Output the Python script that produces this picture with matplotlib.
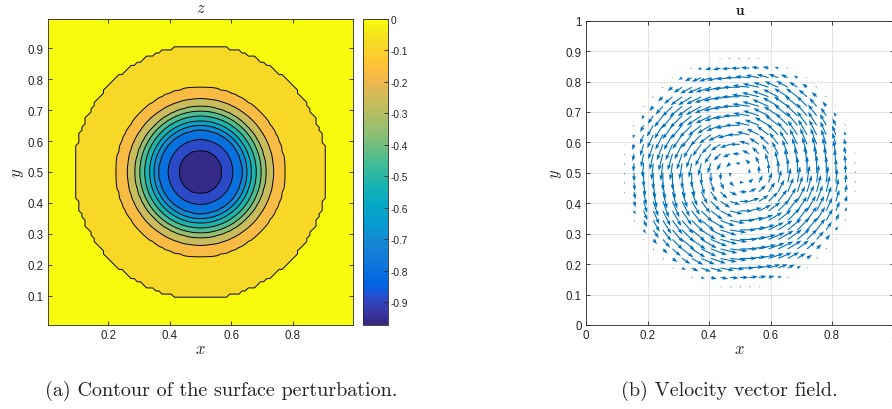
import numpy as np
import matplotlib

matplotlib.use("Agg")
import matplotlib.pyplot as plt
from matplotlib.cm import ScalarMappable
from matplotlib.colors import ListedColormap, Normalize

plt.rcParams["mathtext.fontset"] = "cm"
plt.rcParams["font.family"] = ["Liberation Sans", "DejaVu Sans"]

# Surface perturbation z: contour levels and the radius (from the centre)
# at which each contour sits in the picture. Outermost one is z = 0.
z_levels = [-0.972, -0.884, -0.795, -0.707, -0.619, -0.530,
            -0.442, -0.354, -0.265, -0.177, -0.088, 0.0]
level_radius = [0.0, 0.070, 0.105, 0.136, 0.151, 0.165,
                0.181, 0.197, 0.212, 0.237, 0.273, 0.405]
cbar_ticks = [-0.9, -0.8, -0.7, -0.6, -0.5, -0.4, -0.3, -0.2, -0.1, 0.0]

# Velocity field u: arrow length (in axis units) against distance from the centre.
# The vortex turns anticlockwise.
speed_radius = [0.0, 0.03, 0.06, 0.10, 0.15, 0.20, 0.25, 0.29, 0.32, 0.35, 0.375, 0.395]
arrow_length = [0.0, 0.014, 0.024, 0.035, 0.047, 0.055, 0.058, 0.054, 0.044, 0.025, 0.006, 0.0]

centre = (0.5, 0.5)

# MATLAB parula, 64 entries
PARULA = [
    (0.2081, 0.1663, 0.5292), (0.2116, 0.1898, 0.5777), (0.2123, 0.2138, 0.6270),
    (0.2081, 0.2386, 0.6771), (0.1959, 0.2645, 0.7279), (0.1707, 0.2919, 0.7792),
    (0.1253, 0.3242, 0.8303), (0.0591, 0.3598, 0.8683), (0.0117, 0.3875, 0.8820),
    (0.0060, 0.4086, 0.8828), (0.0165, 0.4266, 0.8786), (0.0329, 0.4430, 0.8720),
    (0.0498, 0.4586, 0.8641), (0.0629, 0.4737, 0.8554), (0.0723, 0.4887, 0.8467),
    (0.0779, 0.5040, 0.8384), (0.0793, 0.5200, 0.8312), (0.0749, 0.5375, 0.8263),
    (0.0641, 0.5570, 0.8240), (0.0488, 0.5772, 0.8228), (0.0343, 0.5966, 0.8199),
    (0.0265, 0.6137, 0.8135), (0.0239, 0.6287, 0.8038), (0.0231, 0.6418, 0.7913),
    (0.0228, 0.6535, 0.7768), (0.0267, 0.6642, 0.7607), (0.0384, 0.6743, 0.7436),
    (0.0590, 0.6838, 0.7254), (0.0843, 0.6928, 0.7062), (0.1133, 0.7015, 0.6859),
    (0.1453, 0.7098, 0.6646), (0.1801, 0.7177, 0.6424), (0.2178, 0.7250, 0.6193),
    (0.2586, 0.7317, 0.5954), (0.3022, 0.7376, 0.5712), (0.3482, 0.7424, 0.5473),
    (0.3953, 0.7459, 0.5244), (0.4420, 0.7481, 0.5033), (0.4871, 0.7491, 0.4840),
    (0.5300, 0.7491, 0.4661), (0.5709, 0.7485, 0.4494), (0.6099, 0.7473, 0.4337),
    (0.6473, 0.7456, 0.4188), (0.6834, 0.7435, 0.4044), (0.7184, 0.7411, 0.3905),
    (0.7525, 0.7384, 0.3768), (0.7858, 0.7356, 0.3633), (0.8185, 0.7327, 0.3498),
    (0.8507, 0.7299, 0.3360), (0.8824, 0.7274, 0.3217), (0.9139, 0.7258, 0.3063),
    (0.9450, 0.7261, 0.2886), (0.9739, 0.7314, 0.2666), (0.9938, 0.7455, 0.2403),
    (0.9990, 0.7653, 0.2164), (0.9955, 0.7861, 0.1967), (0.9880, 0.8066, 0.1794),
    (0.9789, 0.8271, 0.1633), (0.9697, 0.8481, 0.1475), (0.9626, 0.8705, 0.1309),
    (0.9589, 0.8949, 0.1132), (0.9598, 0.9218, 0.0948), (0.9661, 0.9514, 0.0755),
    (0.9763, 0.9831, 0.0538),
]
AX_COLOR = "#262626"
QUIVER_BLUE = "#0072BD"


def style_axes(ax):
    for sp in ax.spines.values():
        sp.set_color(AX_COLOR)
        sp.set_linewidth(0.6)
    ax.tick_params(direction="in", length=3, width=0.6, color=AX_COLOR,
                   labelcolor=AX_COLOR, labelsize=8.3, top=True, right=True, pad=3)


W, H = 892, 410
fig = plt.figure(figsize=(W / 100, H / 100), dpi=100)


def px_axes(x0, y0, x1, y1):
    return fig.add_axes([x0 / W, 1 - y1 / H, (x1 - x0) / W, (y1 - y0) / H])


cmap = ListedColormap(PARULA)
norm = Normalize(vmin=z_levels[0], vmax=z_levels[-1])

# ---- (a) contour of z
ax1 = px_axes(48, 20, 353, 326)
g = np.linspace(0.005, 0.995, 100)
X, Y = np.meshgrid(g, g)
R = np.hypot(X - centre[0], Y - centre[1])
Z = np.interp(R, level_radius, z_levels)

line_levels = z_levels[1:-1] + [-1e-9]
fill_levels = [-1.0] + line_levels + [1.0]
# MATLAB colours each band with its lower level
fill_colors = [cmap(norm(v)) for v in z_levels]
ax1.contourf(X, Y, Z, levels=fill_levels, colors=fill_colors)
ax1.contour(X, Y, Z, levels=line_levels, colors="k", linewidths=0.7,
            linestyles="solid")
ax1.set_xlim(g[0], g[-1])
ax1.set_ylim(g[0], g[-1])
ax1.set_xticks([0.2, 0.4, 0.6, 0.8])
ax1.set_yticks([0.1, 0.2, 0.3, 0.4, 0.5, 0.6, 0.7, 0.8, 0.9])
style_axes(ax1)
ax1.set_title(r"$z$", fontsize=12, pad=5, color=AX_COLOR)
ax1.set_xlabel(r"$x$", fontsize=12, labelpad=0, color=AX_COLOR)
ax1.set_ylabel(r"$y$", fontsize=12, labelpad=1, color=AX_COLOR)

cax = px_axes(363, 20, 388, 326)
cb = fig.colorbar(ScalarMappable(norm=norm, cmap=cmap), cax=cax, ticks=cbar_ticks)
cb.outline.set_edgecolor(AX_COLOR)
cb.outline.set_linewidth(0.6)
cax.tick_params(direction="in", length=3, width=0.6, color=AX_COLOR,
                labelcolor=AX_COLOR, labelsize=7.3, pad=2)
cax.set_yticklabels([f"{t:g}" for t in cbar_ticks])

# ---- (b) velocity vectors
ax2 = px_axes(586, 21.7, 893.5, 326)
q = np.linspace(0, 1, 33)
QX, QY = np.meshgrid(q, q)
dx, dy = QX - centre[0], QY - centre[1]
QR = np.hypot(dx, dy)
L = np.interp(QR, speed_radius, arrow_length, right=0.0)
keep = (L > 0) & (QR > 0)
U = -dy[keep] / QR[keep] * L[keep]
V = dx[keep] / QR[keep] * L[keep]
ax2.quiver(QX[keep], QY[keep], U, V, angles="xy", scale_units="xy", scale=1,
           color=QUIVER_BLUE, width=0.0036, headwidth=3.5, headlength=5,
           headaxislength=4.5, minlength=0.5)
ax2.set_xlim(0, 1)
ax2.set_ylim(0, 1)
ax2.set_xticks([0, 0.2, 0.4, 0.6, 0.8, 1])
ax2.set_xticklabels(["0", "0.2", "0.4", "0.6", "0.8", "1"])
ax2.set_yticks(np.round(np.arange(0, 1.01, 0.1), 1))
ax2.set_yticklabels(["0"] + [f"{t:.1f}" for t in np.arange(0.1, 0.95, 0.1)] + ["1"])
ax2.grid(True, color="#DEDEDE", linewidth=0.6)
ax2.set_axisbelow(True)
style_axes(ax2)
ax2.set_title(r"$\mathbf{u}$", fontsize=11, pad=5, color=AX_COLOR)
ax2.set_xlabel(r"$x$", fontsize=12, labelpad=0, color=AX_COLOR)
ax2.set_ylabel(r"$y$", fontsize=12, labelpad=1, color=AX_COLOR)

# ---- captions
fig.text(221.5 / W, 1 - 391 / H, "(a) Contour of the surface perturbation.",
         family="cmr10", fontsize=14.5, ha="center", va="center", color="#222222")
fig.text(729 / W, 1 - 391 / H, "(b) Velocity vector field.",
         family="cmr10", fontsize=14.5, ha="center", va="center", color="#222222")

fig.savefig("out.png", dpi=100)
